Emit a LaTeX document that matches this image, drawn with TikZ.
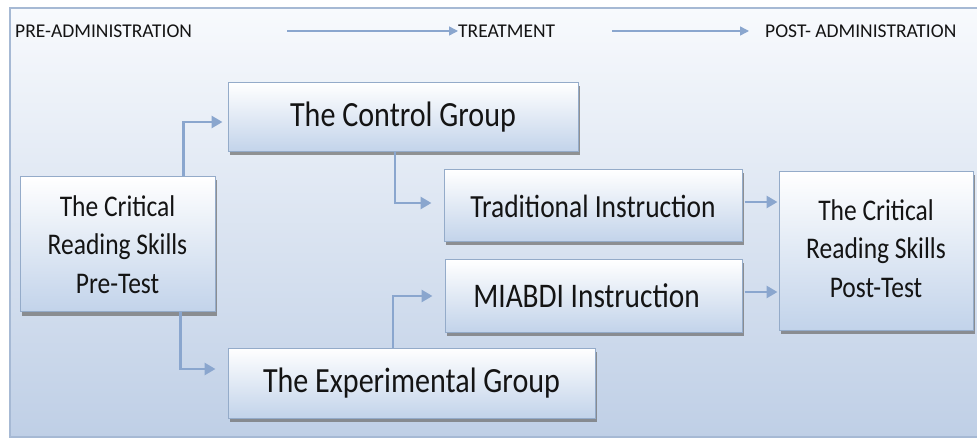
\documentclass[tikz,border=0pt]{standalone}
\usepackage{fontspec}
\setmainfont{Carlito}
\newfontfamily\boxfont{Carlito}[FakeStretch=0.85]
\usetikzlibrary{arrows.meta,shadows,calc}
\definecolor{boxblue}{HTML}{C2D3EA}
\definecolor{panelbot}{HTML}{BFCFE6}
\definecolor{paneltop}{HTML}{F8FAFD}
\definecolor{panelline}{HTML}{A6B9D4}
\definecolor{connblue}{HTML}{8AA6CE}
\definecolor{boxline}{HTML}{94ABC9}
\definecolor{txt}{HTML}{141414}
\tikzset{
  box/.style={draw=boxline, line width=1pt, top color=white, bottom color=boxblue,
    text=txt, align=center, inner sep=0pt,
    drop shadow={shadow xshift=2pt, shadow yshift=-3.5pt, fill=black!55, opacity=0.75}},
  hdr/.style={anchor=west, text=txt, inner sep=0pt, font=\fontsize{19.5}{22}\selectfont},
  conn/.style={draw=connblue, line width=2.8pt, -{Triangle[length=11pt,width=12pt]}},
  hconn/.style={draw=connblue, line width=1.4pt, -{Triangle[length=9pt,width=9pt]}},
  bigfont/.style={font=\boxfont\fontsize{35.4}{40}\selectfont},
  midfont/.style={font=\boxfont\fontsize{32.3}{38}\selectfont},
  mbfont/.style={font=\boxfont\fontsize{34.5}{38}\selectfont},
  smallfont/.style={font=\boxfont\fontsize{30}{38.5}\selectfont}
}
\begin{document}
\begin{tikzpicture}[x=1pt,y=-1pt]
\useasboundingbox (0,0) rectangle (977,446);
% background panel
\fill[top color=paneltop, bottom color=panelbot] (10,8) rectangle (990,437);
\draw[panelline, line width=1.8pt] (10,8) rectangle (990,437);

% header
\node[hdr] (preadm) at (15,31) {PRE-ADMINISTRATION};
\node[hdr] (treat) at (458,31) {TREATMENT};
\node[hdr] (postadm) at (765,31) {POST- ADMINISTRATION};
\coordinate (h1s) at (287,31);
\coordinate (h2s) at (612,31);
\draw[hconn] (h1s) -- (treat.west);
\draw[hconn, shorten >=16pt] (h2s) -- (postadm.west);

% boxes
\node[box, smallfont, minimum width=195pt, minimum height=135pt] (pre) at (117.5,244.5)
  {The Critical\\Reading Skills\\Pre-Test};
\node[box, bigfont, minimum width=350pt, minimum height=69pt] (control) at (403,117.5)
  {The Control Group};
\node[box, midfont, minimum width=298pt, minimum height=72pt] (trad) at (593,206)
  {Traditional Instruction};
\node[box, mbfont, minimum width=297pt, minimum height=72pt] (miabdi) at (593.5,296)
  {\hspace*{-14pt}MIABDI Instruction};
\node[box, smallfont, minimum width=194pt, minimum height=158pt] (post) at (876,251)
  {\raisebox{8pt}{\begin{tabular}{@{}c@{}}The Critical\\Reading Skills\\Post-Test\end{tabular}}};
\node[box, bigfont, minimum width=367pt, minimum height=70pt] (exp) at (411.5,383)
  {The Experimental Group};

% connectors
\draw[conn, shorten >=5pt] ([xshift=-32pt]pre.north east) |- ([yshift=-4.5pt]control.west);
\draw[conn, shorten >=12pt] ([xshift=-8pt]control.south) |- ([yshift=3pt]trad.west);
\draw[conn, shorten >=12pt] ([xshift=-35pt]pre.south east) |- ([yshift=14pt]exp.west);
\draw[conn, shorten >=12pt] ([xshift=-18.5pt]exp.north) |- (miabdi.west);
\draw[conn, shorten <=2pt, shorten >=1pt] ([yshift=4pt]trad.east) -- ([yshift=4pt]trad.east -| post.west);
\draw[conn, shorten <=2pt, shorten >=1pt] ([yshift=4pt]miabdi.east) -- ([yshift=4pt]miabdi.east -| post.west);
\end{tikzpicture}
\end{document}
